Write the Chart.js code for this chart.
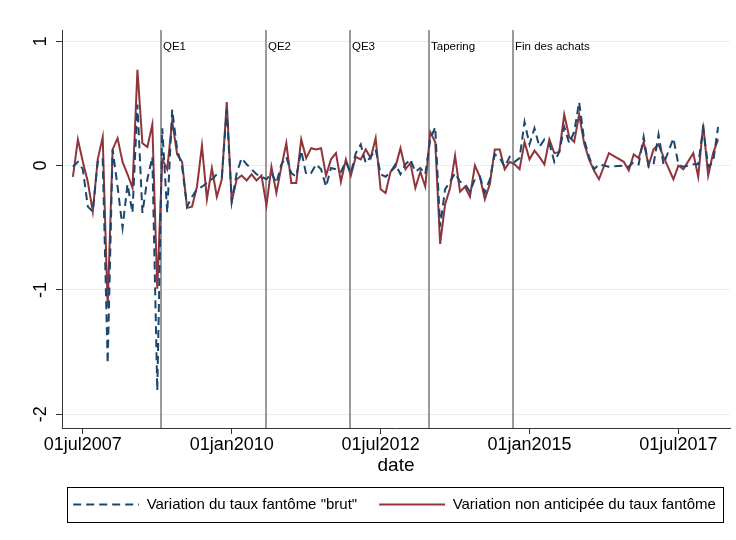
<!DOCTYPE html>
<html>
<head>
<meta charset="utf-8">
<script src="https://cdn.jsdelivr.net/npm/chart.js@4/dist/chart.umd.min.js"></script>
<style>
  html, body { margin: 0; padding: 0; background: #fff; }
  #wrap { width: 736px; height: 540px; }
</style>
</head>
<body>
<div id="wrap"><canvas id="chart" width="736" height="540"></canvas></div>
<script>
// monthly observations (some months are missing in 2016-2017)
const dates = [
  '2007-05','2007-06','2007-07','2007-08','2007-09','2007-10','2007-11','2007-12',
  '2008-01','2008-02','2008-03','2008-04','2008-05','2008-06','2008-07','2008-08','2008-09','2008-10','2008-11','2008-12',
  '2009-01','2009-02','2009-03','2009-04','2009-05','2009-06','2009-07','2009-08','2009-09','2009-10','2009-11','2009-12',
  '2010-01','2010-02','2010-03','2010-04','2010-05','2010-06','2010-07','2010-08','2010-09','2010-10','2010-11','2010-12',
  '2011-01','2011-02','2011-03','2011-04','2011-05','2011-06','2011-07','2011-08','2011-09','2011-10','2011-11','2011-12',
  '2012-01','2012-02','2012-03','2012-04','2012-05','2012-06','2012-07','2012-08','2012-09','2012-10','2012-11','2012-12',
  '2013-01','2013-02','2013-03','2013-04','2013-05','2013-06','2013-07','2013-08','2013-09','2013-10','2013-11','2013-12',
  '2014-01','2014-02','2014-03','2014-04','2014-05','2014-06','2014-07','2014-08','2014-09','2014-10','2014-11','2014-12',
  '2015-01','2015-02','2015-03','2015-04','2015-05','2015-06','2015-07','2015-08','2015-09','2015-10','2015-11','2015-12',
  '2016-01','2016-02','2016-03','2016-05','2016-08','2016-09','2016-10','2016-11','2016-12',
  '2017-01','2017-02','2017-03','2017-04','2017-06','2017-07','2017-08','2017-10','2017-11','2017-12',
  '2018-01','2018-02','2018-03'
];

// Variation du taux fantôme "brut"
const brut = [
  -0.01, 0.03, -0.03, -0.33, -0.37, 0.03, 0.06, -1.59,
  0.13, -0.17, -0.50, -0.15, -0.38, 0.49, -0.38, -0.11, 0.07, -1.81, 0.30, -0.38,
  0.45, 0.13, -0.01, -0.33, -0.25, -0.19, -0.17, -0.14, -0.11, -0.07, -0.09, 0.45,
  -0.29, -0.06, 0.06, 0.01, -0.03, -0.07, -0.09, -0.11, -0.06, -0.14, 0.01, 0.07,
  -0.06, -0.09, 0.12, -0.07, -0.06, 0.01, -0.03, -0.17, -0.02, -0.03, -0.05, 0.03,
  -0.06, 0.10, 0.17, 0.02, 0.07, 0.13, -0.07, -0.09, -0.05, 0.01, -0.07, 0.01,
  0.05, -0.05, -0.02, -0.07, 0.21, 0.31, -0.49, -0.19, -0.13, -0.06, -0.13, -0.15,
  -0.21, -0.11, -0.09, -0.22, -0.11, 0.09, 0.06, -0.01, 0.07, 0.03, 0.06, 0.35,
  0.17, 0.30, 0.15, 0.21, 0.18, 0.03, 0.11, 0.31, 0.18, 0.27, 0.51, 0.21,
  0.07, -0.03, 0.01, -0.01, 0.00, -0.01, 0.03, 0.01, 0.23,
  -0.01, 0.01, 0.25, 0.01, 0.22, 0.01, -0.01, 0.01, 0.01, 0.30,
  -0.01, 0.03, 0.31
];

// Variation non anticipée du taux fantôme
const nonAnticipe = [
  -0.09, 0.21, 0.03, -0.13, -0.37, 0.05, 0.23, -1.14,
  0.13, 0.22, 0.03, -0.07, -0.18, 0.77, 0.18, 0.15, 0.33, -0.99, 0.05, -0.03,
  0.36, 0.09, 0.03, -0.34, -0.33, -0.17, 0.16, -0.27, -0.02, -0.25, -0.11, 0.51,
  -0.29, -0.11, -0.08, -0.12, -0.07, -0.12, -0.08, -0.32, -0.01, -0.22, -0.01, 0.18,
  -0.14, -0.14, 0.21, 0.06, 0.14, 0.13, 0.14, -0.08, 0.05, 0.10, -0.13, 0.05,
  -0.08, 0.07, 0.05, 0.13, 0.06, 0.22, -0.19, -0.22, -0.05, -0.01, 0.14, -0.03,
  0.02, -0.18, -0.05, -0.17, 0.27, 0.19, -0.63, -0.31, -0.18, 0.08, -0.21, -0.17,
  -0.25, 0.00, -0.09, -0.27, -0.15, 0.13, 0.13, -0.03, 0.03, 0.01, -0.03, 0.19,
  0.05, 0.12, 0.07, 0.01, 0.21, 0.10, 0.11, 0.41, 0.23, 0.19, 0.41, 0.18,
  0.05, -0.04, -0.11, 0.10, 0.03, -0.04, 0.09, 0.06, 0.19,
  0.00, 0.13, 0.17, 0.07, -0.11, 0.00, -0.03, 0.10, -0.09, 0.33,
  -0.08, 0.10, 0.21
];

const xTickDates = ['2007-07-01', '2010-01-01', '2012-07-01', '2015-01-01', '2017-07-01'];
const xTickLabels = ['01jul2007', '01jan2010', '01jul2012', '01jan2015', '01jul2017'];
const yTicks = [-2, -1, 0, 1];

const eventDates = ['2008-10-26', '2010-07-26', '2011-12-27', '2013-04-22', '2014-09-21'];
const eventLabels = ['QE1', 'QE2', 'QE3', 'Tapering', 'Fin des achats'];

const BLUE = '#1a476f';
const RED = '#90353b';
const DASH = [8, 5];
const FONT = '"Liberation Sans", Arial, sans-serif';
const SWATCH_W = 74; // 8px blank + 66px of line

// months since 01jul2007
function toMonth(s) {
  const p = s.split('-').map(Number);
  const day = p[2] || 1;
  return (p[0] - 2007) * 12 + (p[1] - 7) + (day - 1) / 30;
}

// line swatches for the legend (dashed / solid)
function swatch(color, dash) {
  const c = document.createElement('canvas');
  c.width = SWATCH_W;
  c.height = 4;
  const g = c.getContext('2d');
  g.strokeStyle = color;
  g.lineWidth = 2;
  g.setLineDash(dash);
  g.beginPath();
  g.moveTo(8, 2);
  g.lineTo(SWATCH_W, 2);
  g.stroke();
  return c;
}
const swatches = [swatch(BLUE, DASH), swatch(RED, [])];

const refLines = {
  id: 'refLines',
  afterLayout(chart) {
    // centre the legend under the plot region rather than the canvas
    const lg = chart.legend;
    const shift = ((chart.chartArea.left + chart.chartArea.right) - (lg.left + lg.right)) / 2 - 5.5;
    lg.left += shift;
    lg.right += shift;
  },
  beforeDatasetsDraw(chart) {
    const { ctx, chartArea, scales } = chart;
    ctx.save();
    ctx.strokeStyle = '#7a7a7a';
    ctx.lineWidth = 1.5;
    ctx.fillStyle = '#000';
    ctx.font = '11.5px ' + FONT;
    ctx.textBaseline = 'middle';
    eventDates.forEach((d, i) => {
      const px = Math.round(scales.x.getPixelForValue(toMonth(d)));
      ctx.beginPath();
      ctx.moveTo(px, chartArea.top);
      ctx.lineTo(px, chartArea.bottom);
      ctx.stroke();
      ctx.fillText(eventLabels[i], px + 2, chartArea.top + 17);
    });
    ctx.restore();
  },
  afterDraw(chart) {
    // box round the legend
    const boxes = chart.legend.legendHitBoxes;
    if (!boxes || !boxes.length) return;
    const first = boxes[0], last = boxes[boxes.length - 1];
    const cy = first.top + first.height / 2;
    const x0 = Math.round(first.left + 2);
    const x1 = Math.round(last.left + last.width + 7);
    const ctx = chart.ctx;
    ctx.save();
    ctx.strokeStyle = '#000';
    ctx.lineWidth = 1;
    ctx.strokeRect(x0 + 0.5, Math.round(cy - 17.5) + 0.5, x1 - x0, 35);
    ctx.restore();
  }
};

new Chart(document.getElementById('chart'), {
  type: 'line',
  data: {
    datasets: [
      {
        label: 'Variation du taux fantôme "brut"',
        data: dates.map((d, i) => ({ x: toMonth(d), y: brut[i] })),
        borderColor: BLUE,
        backgroundColor: BLUE,
        borderWidth: 2,
        borderDash: DASH,
        pointRadius: 0,
        tension: 0
      },
      {
        label: 'Variation non anticipée du taux fantôme',
        data: dates.map((d, i) => ({ x: toMonth(d), y: nonAnticipe[i] })),
        borderColor: RED,
        backgroundColor: RED,
        borderWidth: 2,
        pointRadius: 0,
        tension: 0
      }
    ]
  },
  options: {
    responsive: false,
    animation: false,
    devicePixelRatio: 1,
    layout: { padding: { left: 12, right: 6, top: 30, bottom: 18 } },
    scales: {
      x: {
        type: 'linear',
        min: -4.2,
        max: 130.4,
        afterBuildTicks(scale) {
          scale.ticks = xTickDates.map(d => ({ value: toMonth(d) }));
        },
        ticks: {
          color: '#000',
          font: { family: FONT, size: 18, lineHeight: 1 },
          padding: 2,
          maxRotation: 0,
          autoSkip: false,
          callback: (v, i) => xTickLabels[i]
        },
        grid: { drawOnChartArea: false, tickColor: '#333', tickLength: 6 },
        border: { color: '#333', width: 1 },
        title: {
          display: true,
          text: 'date',
          color: '#000',
          font: { family: FONT, size: 19, lineHeight: 1 },
          padding: { top: 0.5, bottom: 7.5 }
        }
      },
      y: {
        min: -2.11,
        max: 1.09,
        afterBuildTicks(scale) {
          scale.ticks = yTicks.map(v => ({ value: v }));
        },
        afterFit(scale) { scale.width = 50; },
        ticks: {
          color: '#000',
          font: { family: FONT, size: 18 },
          minRotation: 90,
          maxRotation: 90,
          crossAlign: 'center',
          padding: 7,
          callback: v => String(v)
        },
        grid: { color: '#e7eff1', tickColor: '#333', tickLength: 6 },
        border: { color: '#333', width: 1 }
      }
    },
    plugins: {
      legend: {
        position: 'bottom',
        labels: {
          usePointStyle: true,
          pointStyleWidth: SWATCH_W,
          padding: 14,
          color: '#000',
          font: { family: FONT, size: 15 },
          generateLabels(chart) {
            const items = Chart.defaults.plugins.legend.labels.generateLabels(chart);
            items.forEach((it, i) => { it.pointStyle = swatches[i]; });
            return items;
          }
        }
      },
      tooltip: { enabled: false }
    }
  },
  plugins: [refLines]
});
</script>
</body>
</html>
